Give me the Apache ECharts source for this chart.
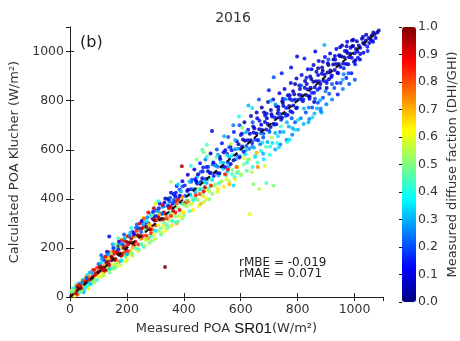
<!DOCTYPE html>
<html><head><meta charset="utf-8">
<script src="https://cdn.jsdelivr.net/npm/echarts@6/dist/echarts.min.js"></script>
<style>html,body{margin:0;padding:0;background:#fff}#c{width:460px;height:341px}</style>
</head><body><div id="c"></div>
<script>
// [measured POA, calculated POA, diffuse fraction] - points close to the 1:1 line
const pointsCore = [
[5,6,0.95],[10,12,0.9],[15,14,1.0],[20,22,0.85],[25,24,0.95],[30,33,0.9],[35,30,0.6],[40,42,1.0],[45,48,0.8],[50,46,0.5],[55,58,0.95],[60,62,0.9],[65,60,0.4],[70,75,0.85],[75,72,1.0],[80,85,0.9],[85,80,0.6],[90,95,0.95],[95,92,0.8],[100,104,0.9],[12,25,0.5],[20,40,0.35],[30,55,0.3],[8,20,0.45],[40,25,0.55],[55,40,0.4],[70,55,0.3],[15,5,0.6],[25,45,0.85],[45,70,0.3],[60,90,0.35],[85,110,0.9],[90,70,0.5],[100,85,0.6],[35,50,0.9],[65,85,0.75],[50,65,0.85],
[105,124,0.95],[110,107,0.85],[115,121,1.0],[120,105,0.9],[125,153,0.8],[130,123,0.7],[135,145,0.95],[140,117,0.9],[145,153,0.85],[150,132,0.6],[155,177,0.9],[160,155,1.0],[165,179,0.8],[170,144,0.75],[175,179,0.9],[180,168,0.95],[185,210,0.7],[190,181,0.85],[195,206,0.9],[200,179,0.8],[110,140,0.35],[120,150,0.2],[138,247,0.1],[130,160,0.6],[145,180,0.5],[160,200,0.4],[175,215,0.3],[190,230,0.9],[150,120,0.45],[165,140,0.55],[180,150,0.35],[195,170,0.5],[200,175,0.3],[115,95,0.65],[140,115,0.4],[170,195,0.15],[185,215,0.2],[125,165,0.9],[155,185,0.85],[100,135,0.25],
[205,215,0.9],[210,187,0.85],[215,223,0.95],[220,202,0.7],[225,247,0.8],[230,225,0.9],[235,249,0.6],[240,214,0.85],[245,249,0.95],[250,238,0.75],[255,280,0.9],[260,251,0.8],[265,276,0.5],[270,249,0.85],[275,294,0.65],[280,277,0.9],[285,291,0.7],[290,275,0.8],[295,323,0.9],[300,293,0.85],[210,250,0.25],[220,265,0.15],[240,280,0.2],[255,300,0.3],[270,310,0.35],[285,330,0.4],[230,200,0.5],[250,215,0.45],[265,235,0.55],[280,245,0.4],[295,255,0.6],[300,270,0.35],[215,185,0.6],[245,300,0.9],[260,320,0.8],[275,240,0.7],[290,340,0.5],[225,255,0.1],[300,330,0.15],[235,270,0.85],
[305,313,0.8],[310,292,0.6],[315,337,0.7],[320,315,0.9],[325,339,0.2],[330,304,0.5],[334,123,1.0],[335,339,0.85],[340,328,0.75],[345,370,0.15],[350,341,0.4],[355,366,0.9],[360,339,0.6],[365,384,0.2],[370,367,0.45],[375,381,0.8],[380,365,0.55],[385,413,0.1],[390,383,0.35],[395,405,0.7],[400,377,0.5],[310,350,0.3],[330,370,0.25],[350,390,0.2],[370,410,0.1],[390,430,0.3],[393,533,0.95],[320,280,0.5],[340,295,0.45],[360,310,0.4],[380,330,0.55],[400,345,0.65],[335,270,0.6],[375,300,0.7],[395,320,0.5],[355,330,0.85],[385,355,0.9],[345,400,0.05],[365,420,0.15],[325,375,0.9],[395,450,0.2],[300,380,0.6],
[405,413,0.2],[410,392,0.4],[415,437,0.1],[420,415,0.35],[425,439,0.15],[430,404,0.45],[435,439,0.2],[440,428,0.3],[445,470,0.1],[450,441,0.5],[455,466,0.25],[460,439,0.35],[465,484,0.1],[470,467,0.4],[475,481,0.2],[480,465,0.3],[485,513,0.05],[490,483,0.45],[495,505,0.15],[500,477,0.35],[410,370,0.55],[430,380,0.6],[450,395,0.5],[470,410,0.65],[490,430,0.55],[420,350,0.45],[460,380,0.7],[480,400,0.6],[500,420,0.5],[440,480,0.1],[460,510,0.2],[480,530,0.15],[499,676,0.1],[481,620,0.45],[481,572,0.4],[470,590,0.5],[420,470,0.3],[450,500,0.05],[495,455,0.85],[470,430,0.9],[415,390,0.75],[455,420,0.8],
[505,493,0.15],[510,535,0.3],[515,506,0.1],[520,531,0.25],[525,504,0.05],[530,549,0.35],[535,532,0.15],[540,546,0.3],[545,530,0.1],[550,578,0.4],[555,548,0.2],[560,570,0.3],[565,542,0.1],[570,578,0.35],[575,557,0.05],[580,602,0.25],[585,580,0.15],[590,604,0.3],[595,569,0.1],[600,604,0.2],[510,460,0.5],[530,470,0.55],[550,480,0.6],[570,500,0.45],[590,510,0.5],[520,440,0.65],[560,460,0.7],[580,480,0.6],[600,500,0.55],[540,590,0.1],[560,610,0.2],[580,640,0.3],[520,580,0.3],[600,660,0.15],[545,500,0.85],[585,530,0.8],[515,570,0.45],[565,625,0.55],[575,455,0.35],[555,520,0.9],
[605,613,0.1],[610,592,0.15],[615,637,0.05],[620,615,0.2],[625,639,0.1],[630,604,0.25],[635,639,0.05],[640,628,0.15],[645,670,0.1],[650,641,0.2],[655,666,0.05],[660,639,0.15],[665,684,0.1],[670,667,0.25],[675,681,0.05],[680,665,0.2],[685,713,0.1],[690,683,0.15],[695,705,0.05],[700,677,0.2],[631,337,0.6],[645,460,0.5],[665,440,0.55],[690,465,0.45],[715,455,0.5],[622,548,0.4],[651,571,0.35],[679,584,0.3],[703,612,0.4],[642,712,0.2],[658,728,0.1],[691,748,0.15],[618,671,0.3],[682,752,0.05],[611,566,0.6],[656,588,0.7],[694,632,0.3],[626,559,0.5],[668,622,0.25],[705,800,0.3],[640,770,0.35],[605,690,0.5],[660,530,0.75],
[705,693,0.05],[710,735,0.1],[715,706,0.05],[720,731,0.15],[725,704,0.1],[730,749,0.05],[735,732,0.1],[740,746,0.2],[745,730,0.05],[750,778,0.1],[755,748,0.05],[760,770,0.15],[765,742,0.1],[770,778,0.05],[775,757,0.1],[780,802,0.15],[785,780,0.05],[790,804,0.1],[795,769,0.05],[800,804,0.2],[721,668,0.3],[738,672,0.25],[762,712,0.3],[779,728,0.2],[802,722,0.35],[728,628,0.4],[771,642,0.35],[748,808,0.15],[772,822,0.1],[791,868,0.05],[798,980,0.1],[722,785,0.3],[741,695,0.45],[789,682,0.35],[758,806,0.25],[710,650,0.55],[782,688,0.3],[732,774,0.05],
[805,824,0.05],[810,807,0.1],[815,821,0.05],[820,805,0.15],[825,853,0.1],[830,823,0.05],[835,845,0.1],[840,817,0.05],[845,853,0.1],[850,832,0.15],[855,877,0.05],[860,855,0.1],[865,879,0.05],[870,844,0.15],[875,879,0.1],[880,868,0.05],[885,910,0.1],[890,881,0.05],[895,906,0.1],[900,879,0.15],[822,768,0.3],[839,772,0.25],[861,808,0.2],[879,802,0.3],[898,838,0.25],[852,732,0.35],[868,768,0.3],[894,1027,0.3],[831,893,0.15],[849,928,0.1],[872,932,0.05],[889,958,0.1],[812,862,0.2],[858,795,0.05],[881,758,0.25],[842,808,0.1],[902,852,0.05],
[905,915,0.05],[910,887,0.1],[915,923,0.05],[920,902,0.1],[925,947,0.05],[930,925,0.1],[935,949,0.05],[940,914,0.1],[945,949,0.05],[950,938,0.1],[955,980,0.05],[960,951,0.1],[965,976,0.05],[970,949,0.1],[975,994,0.05],[980,977,0.1],[985,991,0.05],[990,975,0.1],[995,1023,0.05],[1000,993,0.1],[921,868,0.2],[938,872,0.15],[962,908,0.25],[979,912,0.2],[1002,948,0.15],[931,982,0.1],[949,1018,0.05],[972,1022,0.1],[908,968,0.2],[991,1045,0.05],[958,885,0.3],[1003,965,0.05],
[1005,1010,0.05],[1010,1000,0.1],[1015,1025,0.05],[1020,1015,0.1],[1030,1035,0.05],[1035,1030,0.1],[1040,1045,0.05],[1050,1055,0.05],[1055,1050,0.1],[1060,1065,0.05],[1070,1070,0.05],[1080,1078,0.05],[1030,1060,0.1],[1045,1020,0.15],[1020,990,0.1],[1065,1040,0.1]
];
// wider scatter around the band
const pointsSpread = [
[10,35,0.4],[20,50,0.55],[30,15,0.45],[40,65,0.6],[50,30,0.35],[55,80,0.7],[60,45,0.5],[70,100,0.3],[75,50,0.45],[80,110,0.8],[85,60,0.55],[95,120,0.85],[95,70,0.4],[5,25,0.6],[18,30,0.7],[48,20,0.3],[25,10,0.8],[65,35,0.65],
[105,132,0.85],[110,84,0.6],[115,158,0.95],[120,92,0.55],[130,162,0.8],[135,108,0.4],[140,182,0.9],[145,112,0.6],[150,186,0.75],[155,131,0.45],[160,215,0.5],[165,126,0.65],[170,208,0.95],[175,145,0.3],[180,232,0.85],[185,148,0.55],[190,238,0.6],[195,165,0.4],[200,248,0.7],[200,155,0.65],[110,170,0.2],[130,185,0.05],[150,215,0.3],[170,240,0.45],[190,255,0.2],[125,110,1.0],[145,165,1.0],[165,185,0.95],[185,175,1.0],[120,130,0.7],[178,200,0.6],[198,225,1.0],
[205,248,0.9],[210,172,0.6],[215,281,0.4],[220,168,0.55],[225,262,0.85],[230,198,0.45],[235,296,0.2],[240,188,0.65],[245,279,1.0],[250,214,0.5],[255,322,0.6],[260,205,0.35],[265,305,0.3],[270,232,0.6],[275,345,0.9],[280,221,0.5],[285,338,0.25],[290,252,0.45],[295,362,0.95],[300,238,0.55],[215,240,1.0],[235,250,1.0],[255,280,0.95],[275,300,1.0],[295,315,0.95],[225,210,0.95],[250,265,0.2],[270,295,0.15],[290,320,0.1],[260,290,0.25],[285,260,0.85],
[305,352,0.2],[310,268,0.5],[315,381,0.1],[320,255,0.45],[325,368,0.3],[330,292,0.6],[335,402,0.05],[340,278,0.5],[345,398,0.25],[350,312,0.55],[355,425,0.1],[360,292,0.65],[365,418,0.3],[370,328,0.5],[375,452,0.15],[380,308,0.45],[385,438,0.2],[390,348,0.6],[395,472,0.1],[400,332,0.5],[310,330,0.95],[330,345,1.0],[350,370,0.9],[370,390,0.95],[390,410,0.85],[320,340,0.25],[345,375,0.3],[365,395,0.2],[380,400,0.1],[360,380,0.15],[340,320,0.85],[370,345,0.9],[398,380,0.85],[310,390,0.4],[380,460,0.35],[355,470,0.55],
[403,455,0.15],[408,372,0.5],[414,498,0.05],[418,381,0.55],[426,470,0.2],[432,355,0.65],[437,520,0.1],[441,402,0.5],[446,489,0.3],[452,371,0.6],[457,545,0.15],[462,418,0.45],[466,512,0.1],[471,388,0.55],[476,560,0.25],[479,437,0.6],[486,531,0.2],[489,398,0.5],[494,585,0.05],[498,452,0.45],[412,432,0.1],[428,478,0.2],[447,463,0.05],[468,528,0.15],[492,505,0.1],[423,418,0.3],[443,472,0.25],[461,470,0.15],[483,482,0.05],[502,540,0.2],[433,392,0.4],[453,438,0.35],[487,442,0.45],[425,535,0.4],[445,560,0.5],[465,600,0.45],[406,385,0.9],[442,415,0.85],[474,447,0.95],
[504,548,0.1],[509,452,0.55],[516,601,0.2],[519,428,0.6],[526,572,0.05],[531,471,0.5],[534,627,0.15],[541,449,0.65],[546,598,0.1],[549,495,0.45],[556,652,0.2],[561,470,0.55],[564,611,0.05],[571,518,0.5],[576,672,0.15],[579,488,0.4],[586,635,0.1],[589,530,0.6],[596,700,0.2],[601,497,0.45],[512,537,0.05],[528,561,0.1],[552,583,0.05],[568,598,0.15],[592,622,0.05],[522,495,0.3],[538,522,0.35],[558,532,0.3],[582,561,0.25],[598,574,0.3],[524,465,0.4],[553,510,0.35],[587,505,0.4],[542,655,0.3],[574,700,0.25],[594,735,0.4],
[604,665,0.1],[611,540,0.5],[613,712,0.05],[621,515,0.45],[626,682,0.15],[629,561,0.55],[636,738,0.05],[642,530,0.4],[644,695,0.1],[651,578,0.5],[656,752,0.05],[659,548,0.45],[666,718,0.15],[671,595,0.4],[674,772,0.05],[681,561,0.35],[686,740,0.1],[689,612,0.45],[696,795,0.05],[702,580,0.4],[608,642,0.05],[632,665,0.1],[648,688,0.05],[672,702,0.1],[692,728,0.05],[618,598,0.3],[641,612,0.25],[662,640,0.3],[679,650,0.2],[701,672,0.25],[616,582,0.35],[647,608,0.3],[676,630,0.35],[627,780,0.3],[664,805,0.2],[699,842,0.15],[639,508,0.55],[684,535,0.6],
[706,762,0.05],[711,628,0.35],[714,805,0.1],[721,601,0.3],[724,778,0.05],[731,655,0.35],[736,830,0.1],[739,621,0.25],[746,798,0.05],[751,672,0.3],[754,848,0.1],[761,640,0.25],[766,822,0.05],[769,695,0.3],[776,872,0.1],[781,661,0.25],[784,838,0.05],[791,712,0.2],[796,890,0.1],[801,682,0.3],[708,745,0.05],[732,762,0.1],[748,790,0.05],[772,808,0.1],[788,826,0.05],[718,702,0.2],[742,722,0.15],[758,738,0.2],[782,752,0.15],[798,772,0.2],[716,895,0.2],[744,912,0.15],[777,935,0.1],[734,610,0.35],[764,632,0.4],
[806,862,0.05],[811,728,0.25],[814,905,0.1],[821,705,0.3],[826,880,0.05],[829,752,0.2],[836,928,0.1],[841,725,0.25],[844,898,0.05],[851,772,0.2],[856,945,0.1],[859,748,0.3],[866,918,0.05],[871,792,0.2],[874,962,0.1],[881,768,0.25],[886,935,0.05],[889,812,0.2],[896,978,0.1],[901,785,0.25],[808,848,0.05],[832,868,0.1],[848,888,0.05],[872,905,0.1],[888,922,0.05],[818,798,0.15],[842,818,0.1],[858,832,0.15],[878,852,0.1],[902,872,0.15],[824,972,0.15],[862,1000,0.1],[838,712,0.3],[884,752,0.3],
[906,952,0.05],[911,828,0.2],[914,992,0.1],[921,805,0.25],[926,968,0.05],[929,852,0.2],[936,1010,0.1],[941,825,0.15],[946,985,0.05],[951,872,0.2],[956,1025,0.1],[959,848,0.25],[966,1002,0.05],[971,892,0.15],[974,1040,0.1],[981,868,0.2],[986,1015,0.05],[989,912,0.15],[996,1048,0.1],[1001,885,0.2],[908,945,0.05],[932,968,0.1],[948,982,0.05],[972,1002,0.1],[992,1022,0.05],[918,895,0.15],[942,912,0.1],[962,932,0.15],[978,948,0.1],[998,958,0.1],
[1008,1042,0.05],[1019,968,0.1],[1026,1052,0.05],[1031,995,0.1],[1041,1068,0.05],[1046,1002,0.15],[1052,1035,0.05],[1061,1045,0.1],[1066,1078,0.05],[1074,1055,0.1],[1085,1086,0.05],[1012,975,0.15]
];
// extra low-irradiance points (mostly overcast, high diffuse fraction)
const pointsLow = [
[22,15,0.9],[28,38,1.0],[38,35,0.95],[52,55,1.0],[62,70,0.95],[78,78,1.0],[88,90,0.9],[98,100,1.0],[42,58,0.25],[58,78,0.2],[78,98,0.3],[34,20,0.45],[62,48,0.4],[82,65,0.5],
[108,118,1.0],[118,112,0.95],[128,140,1.0],[138,132,0.95],[148,160,1.0],[158,150,0.9],[168,178,1.0],[178,170,0.95],[188,200,1.0],[198,192,0.9],[112,155,0.3],[132,175,0.25],[152,200,0.15],[172,225,0.1],[192,240,0.3],[118,88,0.55],[138,100,0.5],[158,118,0.45],[178,130,0.55],[198,145,0.6],
[208,222,1.0],[222,218,0.95],[238,252,1.0],[252,246,0.9],[268,285,1.0],[282,275,0.95],[298,312,1.0],[212,262,0.3],[232,282,0.2],[252,310,0.1],[272,325,0.25],[292,348,0.15],[218,178,0.5],[242,195,0.45],[262,210,0.55],[288,230,0.5],
[312,322,0.95],[328,318,1.0],[348,362,0.9],[362,352,0.95],[378,395,0.85],[312,362,0.15],[332,385,0.1],[352,405,0.2],[372,425,0.15],[322,262,0.55],[348,285,0.5],[372,305,0.45],[392,325,0.6]
];
const diagLine = [[0,0],[1080,1080]];
const axisTicks = [0,200,400,600,800,1000];
const cbarTicks = [0,0.1,0.2,0.3,0.4,0.5,0.6,0.7,0.8,0.9,1.0];
const stats = ['rMBE = -0.019','rMAE = 0.071'];
const jet = ['#00007f','#0000ff','#007fff','#00ffff','#7fff7f','#ffff00','#ff7f00','#ff0000','#7f0000'];

const F = 'DejaVu Sans';
const tc = '#333';
const chart = echarts.init(document.getElementById('c'), null, {renderer:'canvas'});
const lbl = v => axisTicks.indexOf(v) >= 0 ? String(v) : '';
chart.setOption({
  animation:false,
  title:{text:'2016', left:228, top:6, textAlign:'center', textStyle:{fontFamily:F,fontSize:14,fontWeight:'normal',color:tc}},
  grid:[{left:70, top:27, right:77, bottom:41},{left:402, top:27, width:14, height:275}],
  xAxis:[
    {type:'value', gridIndex:0, min:0, max:1100, interval:200, splitLine:{show:false},
     axisLine:{lineStyle:{color:'#222',width:1}}, axisTick:{inside:true,length:4,lineStyle:{color:'#222'}},
     axisLabel:{formatter:lbl, fontFamily:F, fontSize:12.5, color:tc, margin:6, showMaxLabel:false},
     name:'{a|Measured POA }{b|SR01}{a|(W/m²)}', nameLocation:'middle', nameGap:22,
     nameTextStyle:{rich:{a:{fontFamily:F,fontSize:13,color:tc},b:{fontFamily:'Liberation Sans',fontSize:15,color:'#111'}}}},
    {type:'value', gridIndex:0, position:'top', min:0, max:1100, interval:200, splitLine:{show:false},
     axisLine:{lineStyle:{color:'#222'}}, axisTick:{inside:true,length:4,lineStyle:{color:'#222'}}, axisLabel:{show:false}},
    {type:'value', gridIndex:1, min:0, max:1, show:false}
  ],
  yAxis:[
    {type:'value', gridIndex:0, min:0, max:1100, interval:200, splitLine:{show:false},
     axisLine:{lineStyle:{color:'#222'}}, axisTick:{inside:true,length:4,lineStyle:{color:'#222'}},
     axisLabel:{formatter:lbl, fontFamily:F, fontSize:12.5, color:tc, margin:6, showMaxLabel:false},
     name:'Calculated POA Klucher (W/m²)', nameLocation:'middle', nameGap:46, nameRotate:90,
     nameTextStyle:{fontFamily:F,fontSize:13,color:tc}},
    {type:'value', gridIndex:0, position:'right', min:0, max:1100, interval:200, splitLine:{show:false},
     axisLine:{lineStyle:{color:'#222'}}, axisTick:{inside:true,length:4,lineStyle:{color:'#222'}}, axisLabel:{show:false}},
    {type:'value', gridIndex:1, position:'right', min:0, max:1, interval:0.1, splitLine:{show:false},
     axisLine:{show:false}, axisTick:{inside:true,length:3,lineStyle:{color:'#111'}},
     axisLabel:{formatter:v=>v.toFixed(1), fontFamily:F, fontSize:12.5, color:tc, margin:9},
     name:'Measured diffuse faction (DHI/GHI)', nameLocation:'middle', nameGap:37, nameRotate:90,
     nameTextStyle:{fontFamily:F,fontSize:13,color:tc}}
  ],
  visualMap:{type:'continuous', min:0, max:1, dimension:2, seriesIndex:0, calculable:false,
    left:402, top:27, itemWidth:14, itemHeight:275, padding:0, text:null, inRange:{color:jet}},
  graphic:[
    {type:'text', left:80, top:35, style:{text:'(b)', font:'16px "DejaVu Sans"', fill:'#222'}},
    {type:'text', left:239, top:257, style:{text:stats.join('\n'), font:'12px "DejaVu Sans"', fill:'#222', lineHeight:11}}
  ],
  series:[
    {type:'scatter', xAxisIndex:0, yAxisIndex:0, data:pointsSpread.concat(pointsCore, pointsLow), symbolSize:4, itemStyle:{opacity:0.85}},
    {type:'line', xAxisIndex:0, yAxisIndex:0, data:diagLine, symbol:'none', lineStyle:{color:'#111',width:2,type:[5,4]}, z:5},
    {type:'scatter', xAxisIndex:2, yAxisIndex:2, data:[]}
  ]
});
</script></body></html>
